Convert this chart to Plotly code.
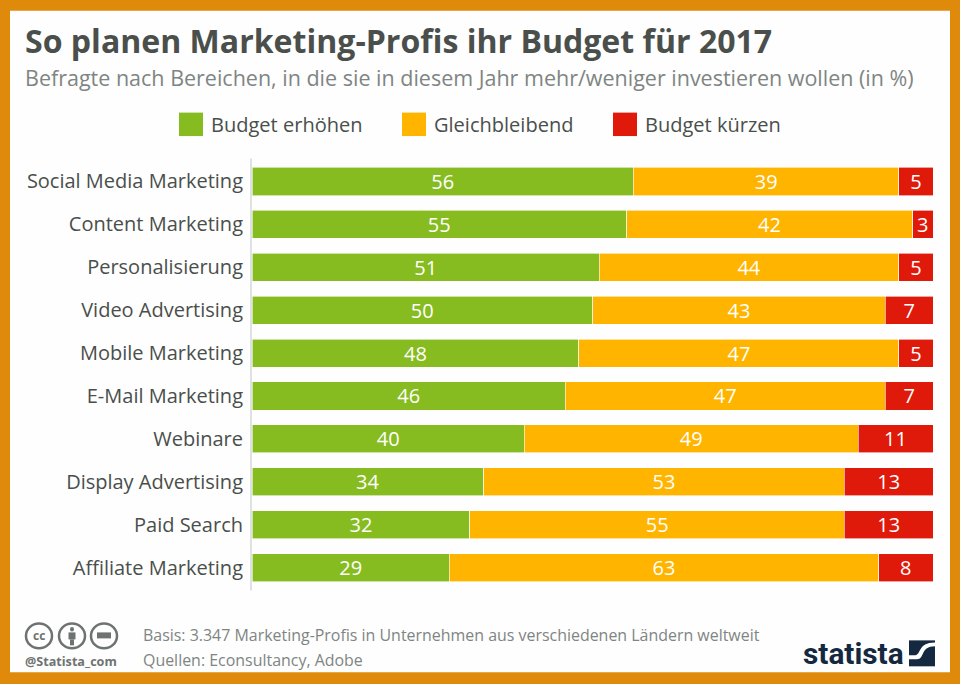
import plotly.graph_objects as go

categories = ["Social Media Marketing", "Content Marketing", "Personalisierung", "Video Advertising",
              "Mobile Marketing", "E-Mail Marketing", "Webinare", "Display Advertising", "Paid Search",
              "Affiliate Marketing"]
erhoehen = [56, 55, 51, 50, 48, 46, 40, 34, 32, 29]
gleich = [39, 42, 44, 43, 47, 47, 49, 53, 55, 63]
kuerzen = [5, 3, 5, 7, 5, 7, 11, 13, 13, 8]
series_names = ["Budget erhöhen", "Gleichbleibend", "Budget kürzen"]
colors = ["#86BC1F", "#FFB400", "#E01A0A"]
W, H = 960, 684
FONT = "Open Sans"
DARK = "#4A4F4C"
GREY = "#7F8583"
ICON = "#6E7371"

fig = go.Figure()
for name, vals, col in zip(series_names, [erhoehen, gleich, kuerzen], colors):
    fig.add_trace(go.Bar(y=categories, x=vals, name=name, orientation="h",
                         marker=dict(color=col, line=dict(color="white", width=0.6)),
                         text=vals, textposition="inside", insidetextanchor="middle",
                         textangle=0, constraintext="none",
                         textfont=dict(family=FONT, size=20, color="white"),
                         showlegend=False, hoverinfo="x+y+name"))

# pixel helpers relative to the plot area
px = lambda x: (x - 252) / 681
py = lambda y: (589.5 - y) / 430

shapes = [
    dict(type="rect", xref="paper", yref="paper", x0=px(10), x1=px(950), y0=py(673), y1=py(10),
         fillcolor="#FDFEFD", line_width=0, layer="below"),
    dict(type="line", xref="paper", yref="paper", x0=px(251), x1=px(251), y0=py(591), y1=py(158),
         line=dict(color="#D5D8D8", width=1.5)),
]

annotations = []
def txt(x, y, s, size, color, bold=False, anchor="left", family=FONT):
    annotations.append(dict(xref="paper", yref="paper", x=px(x), y=py(y), text=f"<b>{s}</b>" if bold else s,
                            showarrow=False, xanchor=anchor, yanchor="middle", align=anchor,
                            font=dict(family=family, size=size, color=color)))

txt(23, 40, "So planen Marketing-Profis ihr Budget für 2017", 32.05, DARK, bold=True)
txt(23, 76.5, "Befragte nach Bereichen, in die sie in diesem Jahr mehr/weniger investieren wollen (in %)", 21.5, GREY)

for x, name, col in zip([179, 402, 613], series_names, colors):
    shapes.append(dict(type="rect", xref="paper", yref="paper", x0=px(x), x1=px(x + 24), y0=py(135.5), y1=py(112),
                       fillcolor=col, line_width=0))
    txt(x + 30, 123.5, name, 20.05, DARK)

def rect(x0, x1, y0, y1, color):
    shapes.append(dict(type="rect", xref="paper", yref="paper", x0=px(x0), x1=px(x1), y0=py(y1), y1=py(y0),
                       fillcolor=color, line_width=0))

for cx in [39, 72, 104]:
    shapes.append(dict(type="circle", xref="paper", yref="paper", x0=px(cx - 13), x1=px(cx + 13),
                       y0=py(649), y1=py(624), line=dict(color=ICON, width=2.5), fillcolor="white"))
txt(39, 636, "cc", 12, ICON, bold=True, anchor="center")
# person icon
shapes.append(dict(type="circle", xref="paper", yref="paper", x0=px(70), x1=px(74), y0=py(632), y1=py(627.5),
                   fillcolor=ICON, line_width=0))
rect(68.5, 75.5, 633, 640, ICON)
rect(70, 74, 640, 646, ICON)
# no-derivatives / licence icon
rect(97, 111, 633, 639, ICON)
txt(23, 662, "@Statista_com", 12.6, ICON, bold=True)
txt(141, 636, "Basis: 3.347 Marketing-Profis in Unternehmen aus verschiedenen Ländern weltweit", 15.95, GREY)
txt(141, 661, "Quellen: Econsultancy, Adobe", 15.95, GREY)

txt(801, 654, "statista", 29.8, "#14293F", bold=True, family="Roboto")
rect(909, 935, 641, 667, "#14293F")
a, b = px, py
wave = (f"M {a(909)} {b(660)} L {a(917)} {b(660)} C {a(925)} {b(660)}, {a(920)} {b(647)}, {a(935)} {b(647)} "
        f"L {a(935)} {b(643)} C {a(917)} {b(643)}, {a(922)} {b(656)}, {a(914)} {b(656)} L {a(909)} {b(656)} Z")
shapes.append(dict(type="path", xref="paper", yref="paper", path=wave, fillcolor="white", line_width=0))

fig.update_layout(
    width=W, height=H, autosize=False,
    margin=dict(l=252, r=27, t=159.5, b=94.5),
    paper_bgcolor="#E08A0B", plot_bgcolor="rgba(0,0,0,0)",
    barmode="stack", bargap=0.345, showlegend=False,
    font=dict(family=FONT),
    shapes=shapes, annotations=annotations,
    xaxis=dict(range=[0, 100], visible=False, fixedrange=True),
    yaxis=dict(autorange="reversed", showgrid=False, zeroline=False, showline=False, ticks="",
               tickfont=dict(family=FONT, size=20, color=DARK), ticklen=0, ticklabelstandoff=8,
               fixedrange=True, automargin=False),
)
fig.write_html("out.html", config=dict(displayModeBar=False),
               post_script="document.body.style.margin='0';document.body.style.overflow='hidden';")
